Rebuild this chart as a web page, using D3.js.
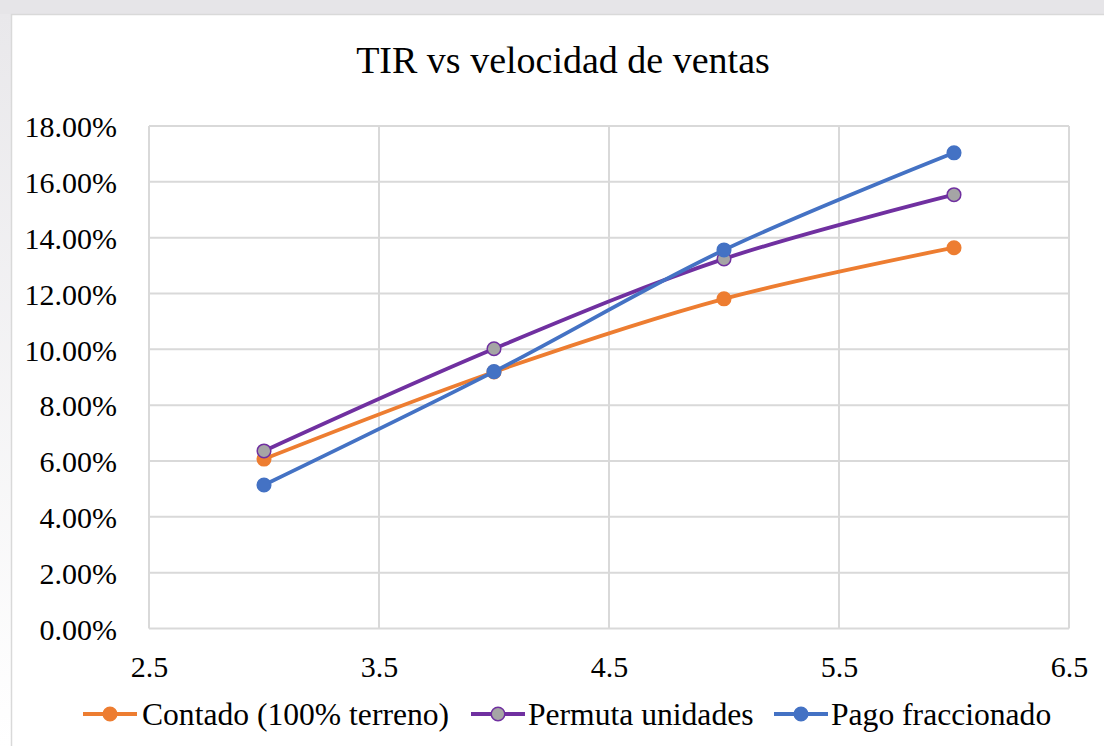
<!DOCTYPE html>
<html>
<head>
<meta charset="utf-8">
<script src="https://cdn.jsdelivr.net/npm/d3@7"></script>
<style>
  body { margin: 0; background: #fff; }
  svg { display: block; }
</style>
</head>
<body>
<svg id="chart"></svg>
<script>
// data
const speeds = [3, 4, 5, 6];
const contado = [6.07, 9.19, 11.81, 13.64];
const permuta = [6.36, 10.02, 13.24, 15.54];
const fraccionado = [5.14, 9.2, 13.56, 17.04];
const seriesNames = ["Contado (100% terreno)", "Permuta unidades", "Pago fraccionado"];
const xTicks = [2.5, 3.5, 4.5, 5.5, 6.5];
const yTicks = [0, 2, 4, 6, 8, 10, 12, 14, 16, 18];

const width = 1104, height = 746;
const plot = { left: 149, right: 1069, top: 126, bottom: 628.5 };
const serif = '"Liberation Serif", "Times New Roman", Tinos, serif';

const svg = d3.select("#chart").attr("width", width).attr("height", height);

// faded backdrop around the chart frame
const grad = svg.append("defs").append("linearGradient")
    .attr("id", "side").attr("x1", 0).attr("y1", 0).attr("x2", 0).attr("y2", 1);
grad.append("stop").attr("offset", "0%").attr("stop-color", "#e9e8eb");
grad.append("stop").attr("offset", "100%").attr("stop-color", "#ffffff");
svg.append("rect").attr("x", 0).attr("y", 0).attr("width", width).attr("height", 14).attr("fill", "#e6e5e8");
svg.append("rect").attr("x", 0).attr("y", 14).attr("width", 11).attr("height", height - 14).attr("fill", "url(#side)");

// chart frame
svg.append("rect")
    .attr("x", 11.5).attr("y", 14.5)
    .attr("width", width + 20).attr("height", height + 20)
    .attr("fill", "#fff").attr("stroke", "#d9d9d9").attr("stroke-width", 1.5);

const x = d3.scaleLinear().domain([2.5, 6.5]).range([plot.left, plot.right]);
const y = d3.scaleLinear().domain([0, 18]).range([plot.bottom, plot.top]);

// grid
svg.append("g").selectAll("line").data(yTicks).enter().append("line")
    .attr("x1", plot.left).attr("x2", plot.right)
    .attr("y1", d => y(d)).attr("y2", d => y(d))
    .attr("stroke", "#d9d9d9").attr("stroke-width", 2);
svg.append("g").selectAll("line").data(xTicks).enter().append("line")
    .attr("x1", d => x(d)).attr("x2", d => x(d))
    .attr("y1", plot.top).attr("y2", plot.bottom)
    .attr("stroke", "#d9d9d9").attr("stroke-width", 2);

// axes labels
const yAxis = svg.append("g").attr("transform", `translate(${plot.left},0)`)
    .call(d3.axisLeft(y).tickValues(yTicks).tickSize(0).tickPadding(32).tickFormat(d => d.toFixed(2) + "%"));
yAxis.select(".domain").remove();
yAxis.selectAll("text")
    .attr("dy", "0.36em")
    .attr("fill", "#000")
    .style("font-size", "30px")
    .style("font-family", serif);

const xAxis = svg.append("g").attr("transform", `translate(0,${plot.bottom})`)
    .call(d3.axisBottom(x).tickValues(xTicks).tickSize(0).tickPadding(27).tickFormat(d3.format(".1f")));
xAxis.select(".domain").remove();
xAxis.selectAll("text")
    .attr("fill", "#000")
    .style("font-size", "30px")
    .style("font-family", serif);

// title
svg.append("text")
    .attr("x", 563).attr("y", 73)
    .attr("text-anchor", "middle")
    .style("font-size", "38px")
    .style("font-family", serif)
    .text("TIR vs velocidad de ventas");

const series = [
    { name: seriesNames[0], values: contado, stroke: "#ed7d31", fill: "#ed7d31" },
    { name: seriesNames[1], values: permuta, stroke: "#7030a0", fill: "#a5a5a5" },
    { name: seriesNames[2], values: fraccionado, stroke: "#4472c4", fill: "#4472c4" }
];

const line = d3.line()
    .x((d, i) => x(speeds[i]))
    .y(d => y(d))
    .curve(d3.curveCatmullRom.alpha(0.5));

series.forEach(s => {
    svg.append("path")
        .attr("d", line(s.values))
        .attr("fill", "none")
        .attr("stroke", s.stroke)
        .attr("stroke-width", 3.8)
        .attr("stroke-linecap", "round");
    svg.append("g").selectAll("circle").data(s.values).enter().append("circle")
        .attr("cx", (d, i) => x(speeds[i]))
        .attr("cy", d => y(d))
        .attr("r", 6.8)
        .attr("fill", s.fill)
        .attr("stroke", s.stroke)
        .attr("stroke-width", 1.5);
});

// legend
const legendItems = [
    { x: 83, textX: 142 },
    { x: 471, textX: 528 },
    { x: 774, textX: 831 }
];
const legend = svg.append("g");
series.forEach((s, i) => {
    const it = legendItems[i];
    legend.append("line")
        .attr("x1", it.x).attr("x2", it.x + 54)
        .attr("y1", 714).attr("y2", 714)
        .attr("stroke", s.stroke).attr("stroke-width", 3.8);
    legend.append("circle")
        .attr("cx", it.x + 27).attr("cy", 714).attr("r", 6.8)
        .attr("fill", s.fill).attr("stroke", s.stroke).attr("stroke-width", 1.5);
    legend.append("text")
        .attr("x", it.textX).attr("y", 725)
        .style("font-size", "31.6px")
        .style("font-family", serif)
        .text(s.name);
});
</script>
</body>
</html>
